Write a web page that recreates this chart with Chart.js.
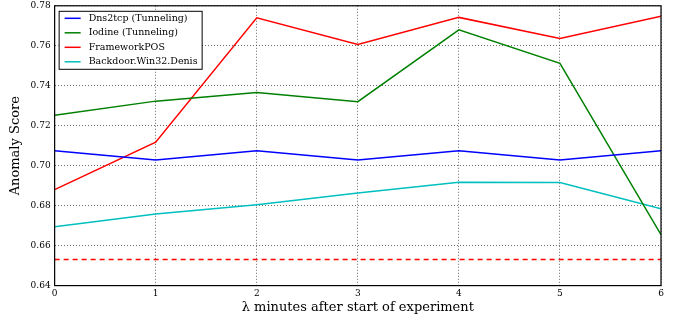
<!DOCTYPE html>
<html>
<head>
<meta charset="utf-8">
<script src="https://cdn.jsdelivr.net/npm/chart.js@4"></script>
<style>
    body { margin: 0; background: #fff; }
    #wrap { width: 680px; height: 322px; }
</style>
</head>
<body>
<div id="wrap"><canvas id="chart" width="680" height="322"></canvas></div>
<script>
const minutes = [0, 1, 2, 3, 4, 5, 6];
const dns2tcp = [0.7075, 0.7028, 0.7075, 0.7028, 0.7075, 0.7028, 0.7075];
const iodine = [0.7252, 0.7323, 0.7366, 0.7320, 0.7680, 0.7512, 0.6655];
const frameworkPos = [0.6880, 0.7118, 0.7740, 0.7606, 0.7742, 0.7637, 0.7748];
const backdoor = [0.6695, 0.6758, 0.6805, 0.6863, 0.6917, 0.6916, 0.6785];
const threshold = [0.653, 0.653, 0.653, 0.653, 0.653, 0.653, 0.653];
const yTicks = [0.64, 0.66, 0.68, 0.70, 0.72, 0.74, 0.76, 0.78];

const SERIF = "'DejaVu Serif', serif";

const toPoints = (vals) => vals.map((v, i) => ({ x: minutes[i], y: v }));

const series = [
    { label: "Dns2tcp (Tunneling)", data: dns2tcp, color: "#0000ff" },
    { label: "Iodine (Tunneling)", data: iodine, color: "#008000" },
    { label: "FrameworkPOS", data: frameworkPos, color: "#ff0000" },
    { label: "Backdoor.Win32.Denis", data: backdoor, color: "#00bfbf" },
];

// frame around the plot + legend box in the upper left
const framePlugin = {
    id: "frame",
    afterDraw(chart) {
        const { ctx, chartArea: a } = chart;
        ctx.save();
        ctx.strokeStyle = "#000";
        ctx.lineWidth = 1.2;
        ctx.strokeRect(a.left, a.top, a.right - a.left, a.bottom - a.top);

        // legend
        const x0 = a.left + 4, y0 = a.top + 5;
        const w = 143, rowH = 14.5;
        const h = rowH * series.length;
        ctx.fillStyle = "#fff";
        ctx.fillRect(x0, y0, w, h);
        ctx.lineWidth = 1;
        ctx.strokeRect(x0 + 0.5, y0 + 0.5, w, h);
        ctx.font = "9.5px " + SERIF;
        ctx.textBaseline = "middle";
        series.forEach((s, i) => {
            const y = y0 + 7.5 + i * rowH;
            ctx.strokeStyle = s.color;
            ctx.lineWidth = 1.5;
            ctx.beginPath();
            ctx.moveTo(x0 + 6, y);
            ctx.lineTo(x0 + 22, y);
            ctx.stroke();
            ctx.fillStyle = "#000";
            ctx.fillText(s.label, x0 + 30, y);
        });
        ctx.restore();
    },
};

new Chart(document.getElementById("chart"), {
    type: "line",
    data: {
        datasets: [
            ...series.map((s) => ({
                label: s.label,
                data: toPoints(s.data),
                borderColor: s.color,
                backgroundColor: s.color,
                borderWidth: 1.5,
                pointRadius: 0,
                tension: 0,
            })),
            {
                label: "threshold",
                data: toPoints(threshold),
                borderColor: "#ff0000",
                borderWidth: 1.5,
                borderDash: [5, 4],
                pointRadius: 0,
            },
        ],
    },
    options: {
        responsive: false,
        animation: false,
        layout: { padding: { left: 8, right: 19, top: 5, bottom: 7 } },
        plugins: {
            legend: { display: false },
            tooltip: { enabled: false },
        },
        scales: {
            x: {
                type: "linear",
                min: 0,
                max: 6,
                grid: { color: "#444", lineWidth: 0.8, drawTicks: false },
                border: { display: false, dash: [1, 2] },
                ticks: {
                    stepSize: 1,
                    color: "#000",
                    padding: 3,
                    font: { family: SERIF, size: 9 },
                },
                title: {
                    display: true,
                    text: "λ minutes after start of experiment",
                    color: "#000",
                    padding: { top: -3, bottom: 0 },
                    font: { family: SERIF, size: 13 },
                },
            },
            y: {
                min: 0.64,
                max: 0.78,
                grid: { color: "#444", lineWidth: 0.8, drawTicks: false },
                border: { display: false, dash: [1, 2] },
                afterBuildTicks: (axis) => {
                    axis.ticks = yTicks.map((v) => ({ value: v }));
                },
                ticks: {
                    color: "#000",
                    padding: 4,
                    font: { family: SERIF, size: 9, lineHeight: 0.4 },
                    callback: (v) => v.toFixed(2),
                },
                title: {
                    display: true,
                    text: "Anomaly Score",
                    color: "#000",
                    padding: { top: 0, bottom: 3 },
                    font: { family: SERIF, size: 13 },
                },
            },
        },
    },
    plugins: [framePlugin],
});
</script>
</body>
</html>
